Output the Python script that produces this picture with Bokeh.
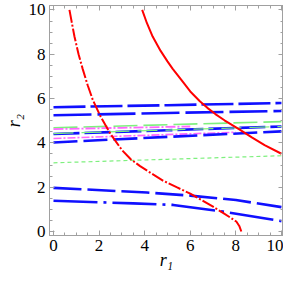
from bokeh.plotting import figure
from bokeh.models import LinearAxis, FixedTicker, Range1d, CustomJSTickFormatter
from bokeh.embed import file_html
from bokeh.resources import INLINE

# ---- data ----
# red dot-dashed curve
red_dash_x = [0.70, 0.80, 0.92, 1.10, 1.28, 1.50, 1.72, 2.05, 2.50, 3.00, 3.40, 3.80, 4.30, 4.80,
              5.40, 6.00, 6.50, 7.00, 7.42, 7.80, 8.02, 8.15, 8.24]
red_dash_y = [10.0, 9.45, 8.80, 8.00, 7.34, 6.60, 5.95, 5.22, 4.40, 3.68, 3.25, 2.95, 2.62, 2.30,
              2.00, 1.71, 1.42, 1.12, 0.85, 0.60, 0.45, 0.25, 0.0]
# red solid curve
red_solid_x = [3.89, 4.10, 4.35, 4.70, 5.00, 5.23, 5.60, 6.00, 6.42, 6.75, 7.10, 7.50, 8.17, 8.70, 9.26, 10.0]
red_solid_y = [10.0, 9.40, 8.80, 8.15, 7.68, 7.34, 6.85, 6.32, 5.88, 5.58, 5.30, 5.02, 4.60, 4.25, 3.90, 3.51]

# blue dashed lines
blue1_x = [0, 5, 10]; blue1_y = [5.61, 5.70, 5.80]
blue2_x = [0, 5, 10]; blue2_y = [5.25, 5.35, 5.44]
blue3_x = [0, 5, 10]; blue3_y = [4.40, 4.57, 4.74]
blue4_x = [0, 5, 10]; blue4_y = [4.02, 4.27, 4.52]
blue5_x = [0, 4.1, 6.0, 8.0, 10]; blue5_y = [1.97, 1.76, 1.62, 1.42, 1.10]
blue6_x = [0, 3.5, 5.25, 7.44, 10]; blue6_y = [1.39, 1.27, 1.20, 0.90, 0.47]

# green dashed lines
green1_x = [0, 5, 10]; green1_y = [4.68, 4.82, 4.96]
green2_x = [0, 5, 10]; green2_y = [4.42, 4.58, 4.74]
green3_x = [0, 5, 10]; green3_y = [3.10, 3.26, 3.42]

# magenta dot-dashed lines
mag1_x = [0, 3, 6]; mag1_y = [4.62, 4.68, 4.74]
mag2_x = [0, 4, 8]; mag2_y = [4.20, 4.34, 4.48]

x_ticks = [0, 2, 4, 6, 8, 10]
y_ticks = [0, 2, 4, 6, 8, 10]
minor = [0.5 * i for i in range(0, 21) if i % 4 != 0]

BLUE = "#1010ff"
RED = "#ff0000"
GREEN = "#7ef07e"
MAG = "#ff66ff"
GRAY = "#a0a0a0"
FONT = "Liberation Serif"

p = figure(width=283, height=279, output_backend="svg", toolbar_location=None,
           x_range=Range1d(-0.175, 10.09), y_range=Range1d(-0.18, 10.2),
           min_border_left=41, min_border_right=0, min_border_top=5, min_border_bottom=44)
p.grid.visible = False
p.outline_line_color = GRAY
p.background_fill_color = "white"

# lines
p.line(blue1_x, blue1_y, color=BLUE, line_width=2.6, line_dash="32 5")
p.line(blue2_x, blue2_y, color=BLUE, line_width=2.6, line_dash="38 6")
p.line(green1_x, green1_y, color=GREEN, line_width=1.6, line_dash="24 6")
p.line(mag1_x, mag1_y, color=MAG, line_width=1.8, line_dash="10 2 2 2")
p.line(blue3_x, blue3_y, color=BLUE, line_width=2.6, line_dash="26 5")
p.line(green2_x, green2_y, color=GREEN, line_width=1.2, line_dash="20 8")
p.line(mag2_x, mag2_y, color=MAG, line_width=1.6, line_dash="8 2 2 2")
p.line(blue4_x, blue4_y, color=BLUE, line_width=2.6, line_dash="24 6")
p.line(green3_x, green3_y, color=GREEN, line_width=1.2, line_dash="4 3")
p.line(blue5_x, blue5_y, color=BLUE, line_width=2.6, line_dash="28 6")
p.line(blue6_x, blue6_y, color=BLUE, line_width=2.6, line_dash="44 6 3 6")
p.line(red_dash_x, red_dash_y, color=RED, line_width=2.0, line_dash="13 2 2 2")
p.line(red_solid_x, red_solid_y, color=RED, line_width=2.0)

def style(ax, ticks, labels=True):
    ax.ticker = FixedTicker(ticks=ticks, minor_ticks=minor)
    ax.axis_line_color = GRAY
    ax.major_tick_line_color = GRAY
    ax.minor_tick_line_color = GRAY
    ax.major_tick_in = 5
    ax.major_tick_out = 0
    ax.minor_tick_in = 3
    ax.minor_tick_out = 0
    if labels:
        ax.major_label_text_font = FONT
        ax.major_label_text_font_size = "17px"
        ax.major_label_text_color = "black"
    else:
        ax.formatter = CustomJSTickFormatter(code="return ''")
        ax.major_label_text_font_size = "0px"
        ax.major_label_standoff = 0
        ax.axis_label_standoff = 0

xa = p.xaxis[0]
ya = p.yaxis[0]
style(xa, x_ticks)
style(ya, y_ticks)
xa.major_label_standoff = 4
ya.major_label_standoff = 4
xa.axis_label = "r₁"
ya.axis_label = "r₂"
for ax in (xa, ya):
    ax.axis_label_text_font = FONT
    ax.axis_label_text_font_style = "italic"
    ax.axis_label_text_font_size = "18px"
    ax.axis_label_text_color = "black"
xa.axis_label_standoff = -4
ya.axis_label_standoff = 2

top = LinearAxis()
right = LinearAxis()
style(top, x_ticks, labels=False)
style(right, y_ticks, labels=False)
p.add_layout(top, "above")
p.add_layout(right, "right")

open("out.html", "w").write(file_html(p, INLINE))
